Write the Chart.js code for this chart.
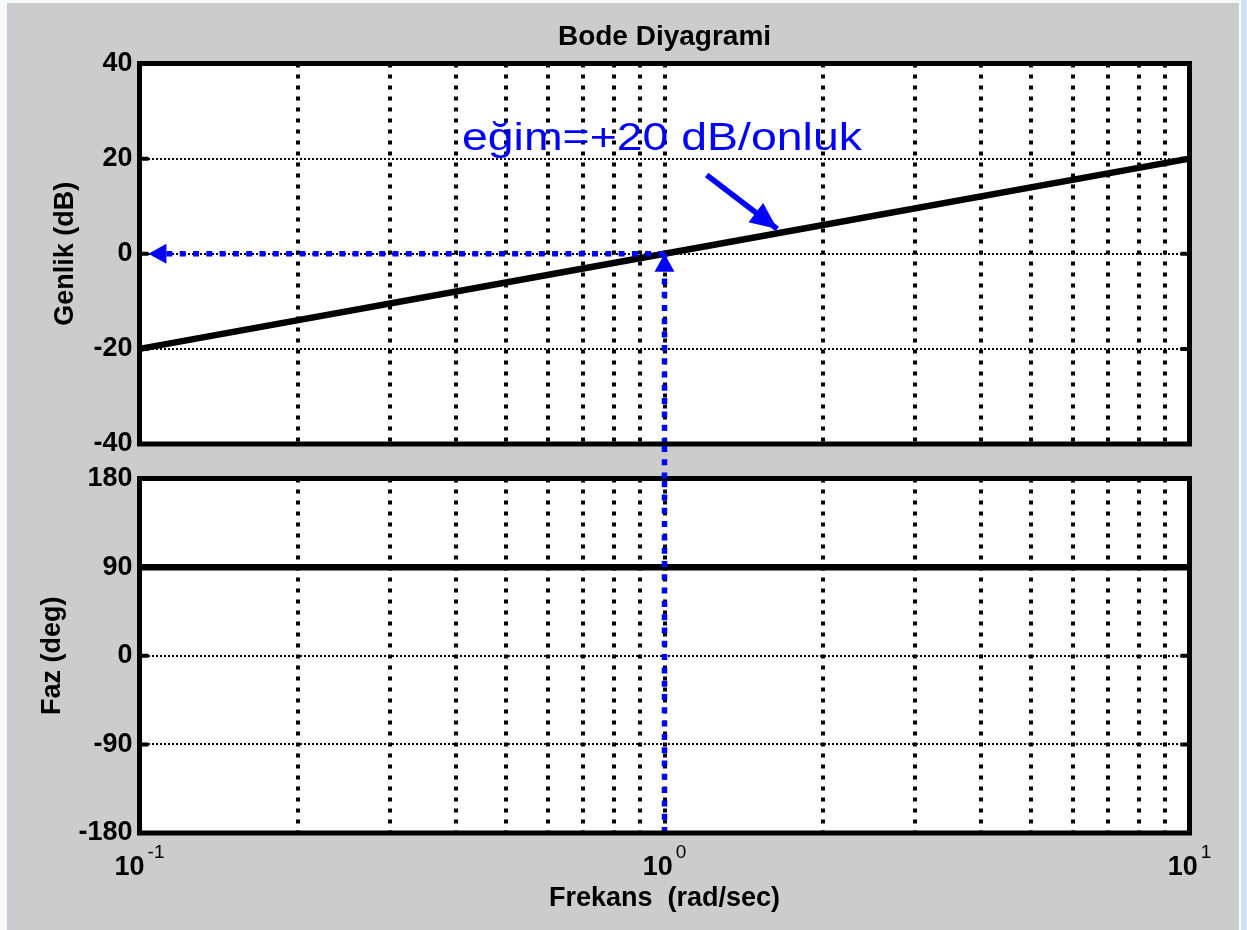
<!DOCTYPE html>
<html lang="tr">
<head>
<meta charset="utf-8">
<title>Bode Diyagrami</title>
<script src="https://cdn.jsdelivr.net/npm/chart.js@4/dist/chart.umd.min.js"></script>
<style>
  html, body { margin: 0; padding: 0; background: #f7f9fd; }
  #figure { position: relative; width: 1247px; height: 930px; overflow: hidden; background: #f7f9fd; }
  #panel { position: absolute; left: 7px; top: 3px; width: 1232px; height: 927px; background: #cccccc; }
  #edgeGap { position: absolute; left: 1239px; top: 0; width: 2px; height: 930px; background: #ffffff; }
  #edge { position: absolute; left: 1241px; top: 0; width: 6px; height: 930px; background: #cfe1f6; }
  canvas { position: absolute; left: 0; }
  #magCanvas { top: 0; }
  #phaseCanvas { top: 444px; }
</style>
</head>
<body>
<div id="figure">
  <div id="panel"></div>
  <div id="edgeGap"></div>
  <div id="edge"></div>
  <canvas id="magCanvas" width="1247" height="478"></canvas>
  <canvas id="phaseCanvas" width="1247" height="486"></canvas>
</div>
<script>
// Frequency response of G(s) = s
const frequency = [0.1, 1, 10];          // rad/sec
const magnitudeDb = [-20, 0, 20];        // dB
const phaseDeg = [90, 90, 90];           // degrees

// Axis ticks
const freqGridTicks = [0.1, 0.2, 0.3, 0.4, 0.5, 0.6, 0.7, 0.8, 0.9, 1, 2, 3, 4, 5, 6, 7, 8, 9, 10];
const freqDecadeTicks = [0.1, 1, 10];
const magTicks = [-40, -20, 0, 20, 40];
const phaseTicks = [-180, -90, 0, 90, 180];

// Crossover guides: 0 dB at 1 rad/sec
const crossFreq = [1];
const crossMag = [0];
const guideLeftFreq = [0.104];
// Slope pointer (start, tip) and its caption
const pointerFreq = [1.203, 1.64];
const pointerMag = [16.56, 5.2];
const slopeText = 'eğim=+20 dB/onluk';
const slopeTextFreq = 0.4114;
const slopeTextMag = 21.9;

const FONT = "'Liberation Sans', Arial, Helvetica, sans-serif";
const BLUE = '#0000ff';
const boldFont = { family: FONT, size: 27, weight: 'bold' };

const xy = (xs, ys) => xs.map((v, i) => ({ x: v, y: ys[i] }));
const setTicks = values => scale => { scale.ticks = values.map(v => ({ value: v })); };

// White plot area, inward tick marks and heavy box
const plotFrame = {
  id: 'plotFrame',
  beforeDraw(chart) {
    const { ctx, chartArea: a } = chart;
    ctx.save();
    ctx.fillStyle = '#ffffff';
    ctx.fillRect(a.left, a.top, a.right - a.left, a.bottom - a.top);
    ctx.restore();
  },
  afterDatasetsDraw(chart) {
    const { ctx, chartArea: a, scales } = chart;
    ctx.save();
    ctx.strokeStyle = '#000000';
    ctx.lineWidth = 4;
    scales.y.ticks.forEach(t => {
      const py = scales.y.getPixelForValue(t.value);
      if (py <= a.top + 1 || py >= a.bottom - 1) return;
      ctx.beginPath();
      ctx.moveTo(a.left, py); ctx.lineTo(a.left + 9, py);
      ctx.moveTo(a.right, py); ctx.lineTo(a.right - 9, py);
      ctx.stroke();
    });
    ctx.lineWidth = 5;
    ctx.lineJoin = 'miter';
    ctx.strokeRect(a.left, a.top, a.right - a.left, a.bottom - a.top);
    ctx.restore();
  }
};

// Filled heads at the last point of datasets flagged with arrowHead
const arrowHeads = {
  id: 'arrowHeads',
  afterDatasetsDraw(chart) {
    const ctx = chart.ctx;
    chart.data.datasets.forEach((ds, i) => {
      if (!ds.arrowHead) return;
      const pts = chart.getDatasetMeta(i).data;
      const tip = pts[pts.length - 1];
      const prev = pts[pts.length - 2];
      const ang = Math.atan2(tip.y - prev.y, tip.x - prev.x);
      const L = ds.arrowHead.length, W = ds.arrowHead.width;
      const bx = tip.x - L * Math.cos(ang), by = tip.y - L * Math.sin(ang);
      const nx = -Math.sin(ang) * W / 2, ny = Math.cos(ang) * W / 2;
      ctx.save();
      ctx.fillStyle = ds.borderColor;
      ctx.beginPath();
      ctx.moveTo(tip.x, tip.y);
      ctx.lineTo(bx + nx, by + ny);
      ctx.lineTo(bx - nx, by - ny);
      ctx.closePath();
      ctx.fill();
      ctx.restore();
    });
  }
};

// Caption for the slope pointer
const slopeCaption = {
  id: 'slopeCaption',
  afterDatasetsDraw(chart) {
    const { ctx, scales: { x, y } } = chart;
    const px = x.getPixelForValue(slopeTextFreq);
    const py = y.getPixelForValue(slopeTextMag);
    ctx.save();
    ctx.translate(px, py);
    ctx.scale(1.19, 1);
    ctx.font = '39px ' + FONT;
    ctx.fillStyle = BLUE;
    ctx.textAlign = 'left';
    ctx.textBaseline = 'alphabetic';
    ctx.fillText(slopeText, 0, 0);
    ctx.restore();
  }
};

// Decade labels 10^n under the lower axes, and the guide crossing the gap between the axes
const lowerExtras = {
  id: 'lowerExtras',
  afterDraw(chart) {
    const { ctx, chartArea: a, scales: { x } } = chart;
    ctx.save();
    ctx.fillStyle = '#000000';
    ctx.textBaseline = 'alphabetic';
    ctx.textAlign = 'left';
    freqDecadeTicks.forEach(v => {
      const px = x.getPixelForValue(v);
      const base = '10';
      const sup = String(Math.round(Math.log10(v)));
      ctx.font = 'bold 27px ' + FONT;
      const wb = ctx.measureText(base).width;
      ctx.font = '19px ' + FONT;
      const ws = ctx.measureText(sup).width;
      const start = px - (wb + 3 + ws) / 2;
      ctx.font = 'bold 27px ' + FONT;
      ctx.fillText(base, start, a.bottom + 42);
      ctx.font = '19px ' + FONT;
      ctx.fillText(sup, start + wb + 3, a.bottom + 25);
    });
    const gx = x.getPixelForValue(crossFreq[0]);
    ctx.strokeStyle = BLUE;
    ctx.lineWidth = 5.5;
    ctx.setLineDash([6, 7.3]);
    ctx.beginPath();
    ctx.moveTo(gx, a.top);
    ctx.lineTo(gx, 0);
    ctx.stroke();
    ctx.restore();
  }
};

const xGrid = { color: '#000000', lineWidth: 4, drawTicks: false, borderDash: [4, 7] };
const yGrid = { color: '#000000', lineWidth: 2, drawTicks: false, borderDash: [2, 2] };

const common = {
  responsive: false,
  animation: false,
  devicePixelRatio: 1,
  events: [],
  elements: { point: { radius: 0 }, line: { tension: 0, borderCapStyle: 'butt' } }
};

// Magnitude plot
new Chart(document.getElementById('magCanvas'), {
  type: 'line',
  data: {
    datasets: [
      { data: xy(frequency, magnitudeDb), borderColor: '#000000', borderWidth: 6.5, order: 3 },
      { data: xy([crossFreq[0], guideLeftFreq[0]], [crossMag[0], crossMag[0]]), borderColor: BLUE, borderWidth: 5.5,
        borderDash: [6, 7.3], order: 1, arrowHead: { length: 18, width: 20 } },
      { data: xy([crossFreq[0], crossFreq[0]], [magTicks[0], crossMag[0]]), borderColor: BLUE, borderWidth: 5.5,
        borderDash: [6, 7.3], order: 1, arrowHead: { length: 18, width: 20 } },
      { data: xy(pointerFreq, pointerMag), borderColor: BLUE, borderWidth: 5.5, order: 0,
        arrowHead: { length: 27, width: 24 } }
    ]
  },
  options: {
    ...common,
    layout: { padding: { left: 0, right: 57.5, top: 0, bottom: 34 } },
    plugins: {
      legend: { display: false },
      tooltip: { enabled: false },
      title: {
        display: true, text: 'Bode Diyagrami', fullSize: false, color: '#000000',
        font: { family: FONT, size: 28, weight: 'bold' }, padding: { top: 20, bottom: 9.9 }
      }
    },
    scales: {
      x: {
        type: 'logarithmic', min: 0.1, max: 10,
        afterBuildTicks: setTicks(freqGridTicks),
        ticks: { display: false },
        grid: xGrid,
        border: { display: false, dash: [4, 7] },
        afterFit: s => { s.height = 0; }
      },
      y: {
        min: -40, max: 40,
        afterBuildTicks: setTicks(magTicks),
        ticks: { color: '#000000', font: boldFont, padding: 7, autoSkip: false },
        grid: yGrid,
        border: { display: false, dash: [2, 2] },
        title: { display: true, text: 'Genlik (dB)', color: '#000000', font: boldFont, padding: { top: 49.8, bottom: 0 } },
        afterFit: s => { s.width = 139.5; }
      }
    }
  },
  plugins: [plotFrame, arrowHeads, slopeCaption]
});

// Phase plot
new Chart(document.getElementById('phaseCanvas'), {
  type: 'line',
  data: {
    datasets: [
      { data: xy(frequency, phaseDeg), borderColor: '#000000', borderWidth: 6.5, order: 3 },
      { data: xy([crossFreq[0], crossFreq[0]], [phaseTicks[0], phaseTicks[phaseTicks.length - 1]]), borderColor: BLUE,
        borderWidth: 5.5, borderDash: [6, 7.3], order: 1 }
    ]
  },
  options: {
    ...common,
    layout: { padding: { left: 0, right: 57.5, top: 34.5, bottom: 0 } },
    plugins: { legend: { display: false }, tooltip: { enabled: false }, title: { display: false } },
    scales: {
      x: {
        type: 'logarithmic', min: 0.1, max: 10,
        afterBuildTicks: setTicks(freqGridTicks),
        ticks: { display: false },
        grid: xGrid,
        border: { display: false, dash: [4, 7] },
        title: { display: true, text: 'Frekans  (rad/sec)', color: '#000000', font: boldFont, padding: { top: 0, bottom: 15.2 } },
        afterFit: s => { s.height = 97; }
      },
      y: {
        min: -180, max: 180,
        afterBuildTicks: setTicks(phaseTicks),
        ticks: { color: '#000000', font: boldFont, padding: 7, autoSkip: false },
        grid: yGrid,
        border: { display: false, dash: [2, 2] },
        title: { display: true, text: 'Faz (deg)', color: '#000000', font: boldFont, padding: { top: 36.8, bottom: 0 } },
        afterFit: s => { s.width = 139.5; }
      }
    }
  },
  plugins: [plotFrame, arrowHeads, lowerExtras]
});
</script>
</body>
</html>
